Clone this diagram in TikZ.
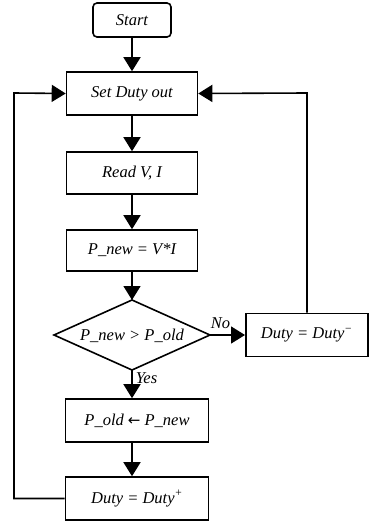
\documentclass[tikz,border=0pt]{standalone}
\usepackage{fontspec}
\setmainfont{Liberation Serif}
\newfontfamily\arrowfont{DejaVu Sans}
\usepackage{tikz}
\usetikzlibrary{positioning,shapes.geometric,arrows.meta}

\begin{document}
\begin{tikzpicture}[
		x=1pt, y=1pt,
		node distance=33.4pt,
		font=\fontsize{16.5}{19}\selectfont\itshape,
		startbox/.style={rectangle, draw, line width=1.6pt, rounded corners=4pt, minimum width=78pt, minimum height=34pt},
		box/.style={rectangle, draw, line width=1.6pt, minimum width=131pt, minimum height=43pt, text centered},
		widebox/.style={box, minimum width=143pt},
		decision/.style={diamond, draw, line width=1.6pt, inner sep=0pt, outer sep=0pt, minimum width=156pt, minimum height=70pt},
		arrow/.style={-{Triangle[width=17pt,length=14pt]}, line width=1.6pt},
		line/.style={line width=1.6pt}
		]
		\useasboundingbox (0,0) rectangle (368,-522);
		% main column, top to bottom
		\node[startbox] (start) at (132,-20) {Start};
		\node[box, below=of start] (setduty) {Set Duty out};
		\node[box, below=35.4pt of setduty, minimum height=42pt] (readvi) {Read V, I};
		\node[box, below=34.4pt of readvi, minimum height=41pt] (pnew) {P\_new = V*I};
		\node[decision, below=28.2pt of pnew] (compare) {\makebox[0pt]{\smash{\raisebox{-0.32em}{P\_new > P\_old}}}};
		\node[widebox, below=28.2pt of compare, xshift=5pt] (pold) {P\_old {\arrowfont\upshape\fontsize{15}{19}\selectfont ←} P\_new};
		\node[widebox, below=of pold] (dutyup) {Duty = Duty\textsuperscript{+}};
		% branch for No
		\node[box, right=35pt of compare, minimum width=122pt, anchor=west] (dutydown) {Duty = Duty\textsuperscript{\char"2212}};
		% loop corners
		\coordinate (leftup) at (14,-93);
		\coordinate (rightup) at (307,-93);
		% arrows down the column
		\draw[arrow] (start) -- (setduty);
		\draw[arrow] (setduty) -- (readvi);
		\draw[arrow] (readvi) -- (pnew);
		\draw[arrow] (pnew) -- (compare);
		\draw[arrow] (compare.south) -- (compare.south |- pold.north) node[pos=0.3, right, inner sep=3pt] {Yes};
		\draw[arrow] (pold.south -| compare.south) -- (dutyup.north -| compare.south);
		\draw[arrow] (compare.east) -- (dutydown.west) node[pos=0.3, above, inner sep=6pt] {No};
		% feedback loops
		\draw[arrow] (dutyup.west) -| (leftup) -- (setduty.west);
		\draw[arrow] (dutydown.north -| rightup) -- (rightup) -- (setduty.east);
	\end{tikzpicture}
\end{document}
